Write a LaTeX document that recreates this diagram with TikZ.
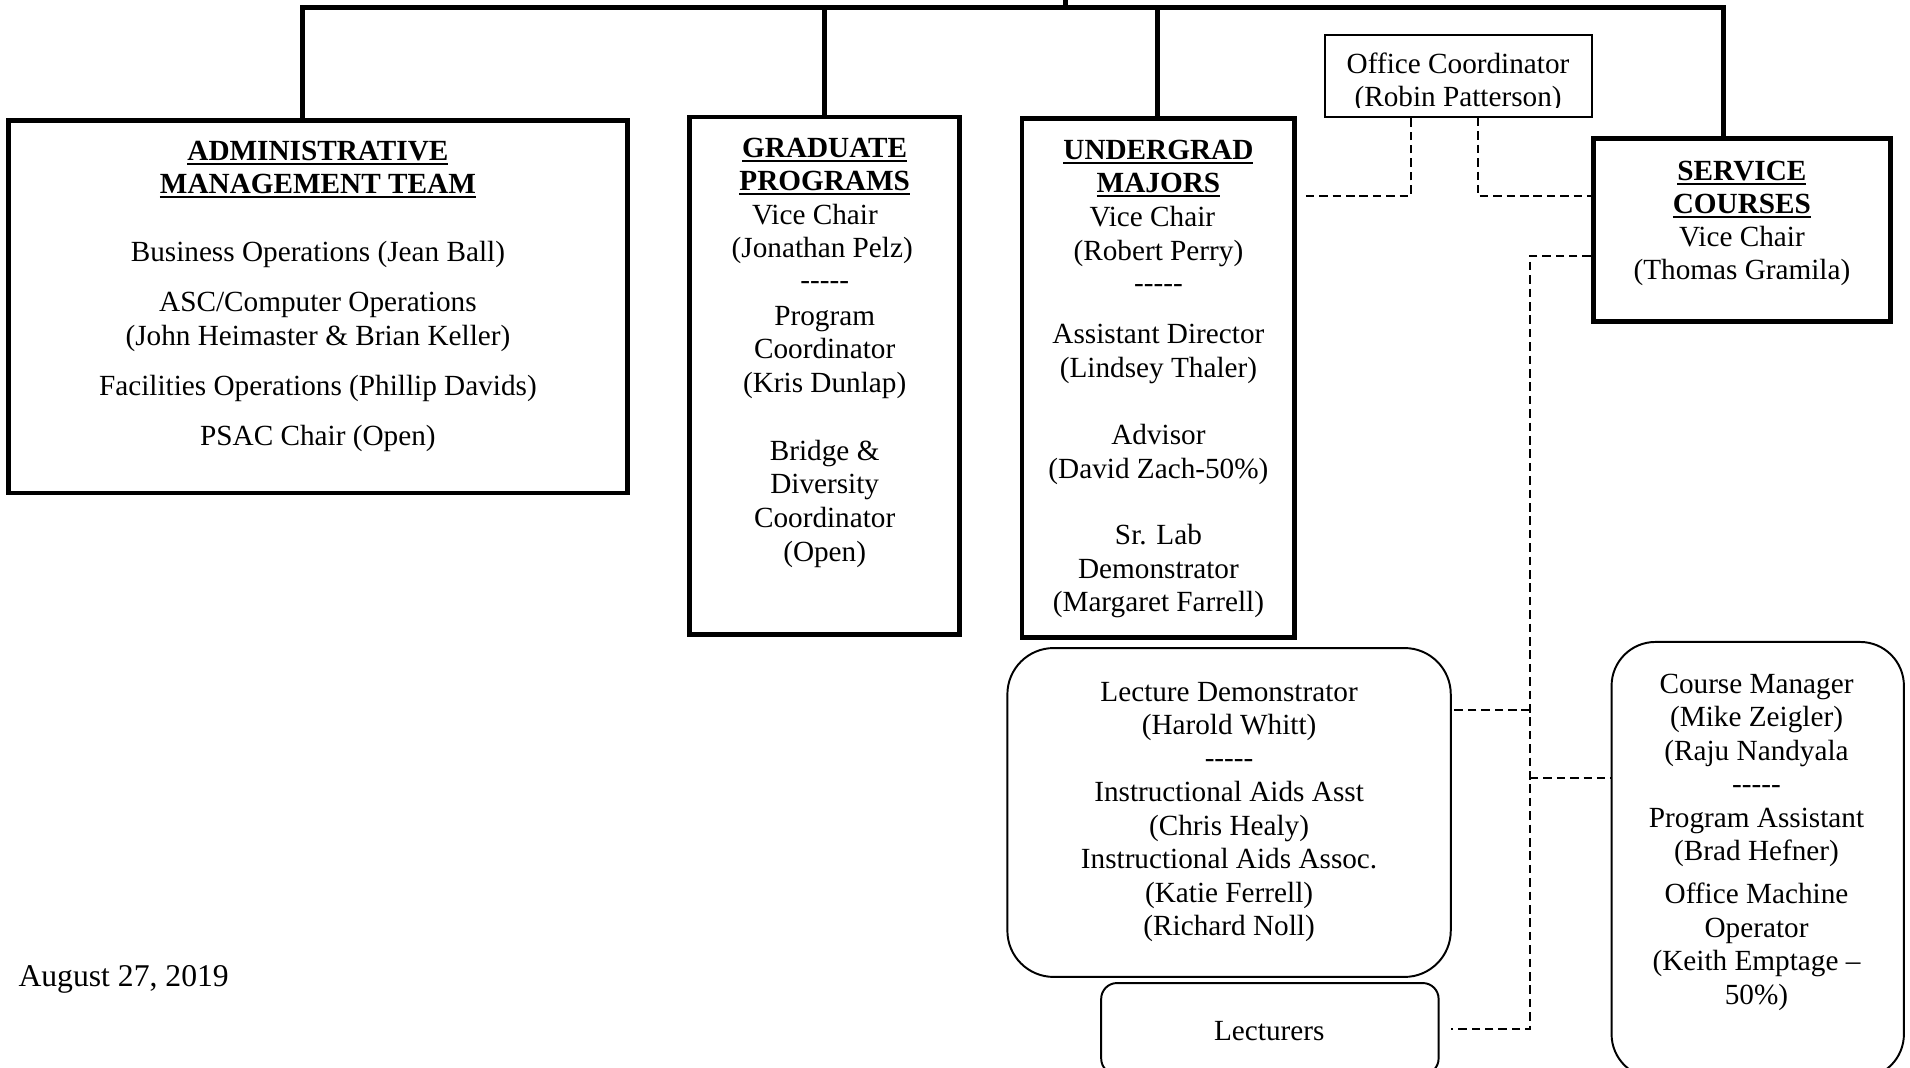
\documentclass[tikz,border=0pt]{standalone}
\usepackage{fontspec}
\setmainfont{Liberation Serif}
\newcommand{\myul}[1]{\setbox0=\hbox{#1}\rlap{\rule[-3.8pt]{\wd0}{1.6pt}}\box0}
\begin{document}
\begin{tikzpicture}[x=1pt,y=-1pt,
  conn/.style={line width=4pt},
  dsh/.style={line width=1.5pt, dash pattern=on 7pt off 4pt},
  bigbox/.style={draw, line width=4pt, inner sep=0pt},
  thinbox/.style={draw, line width=1.6pt, inner sep=0pt},
  rbox/.style={draw, line width=1.6pt, inner sep=0pt, rounded corners=#1},
  txt/.style={inner sep=0pt, anchor=base, font=\fontsize{24}{27.5}\selectfont},
  ttl/.style={inner sep=0pt, anchor=base, font=\fontsize{24}{27.5}\selectfont\bfseries}]
\useasboundingbox (0,0) rectangle (1568,876);

% boxes
\node[bigbox, minimum width=508, minimum height=305.5] (adm) at (261,252) {};
\node[bigbox, minimum width=222, minimum height=425] (grd) at (677,308.5) {};
\node[bigbox, minimum width=224, minimum height=426] (ug) at (951,310) {};
\node[bigbox, minimum width=244, minimum height=150] (svc) at (1430,189) {};
\node[thinbox, minimum width=219, minimum height=67] (oc) at (1197.5,62.5) {};
\node[rbox=38, minimum width=364, minimum height=270] (ldm) at (1009,667) {};
\node[rbox=13, minimum width=277, minimum height=75] (lec) at (1042.5,844.5) {};
\node[rbox=36, minimum width=240, minimum height=358] (crs) at (1443,706) {};

% solid connectors
\coordinate (hub) at (875,0);
\coordinate (tA) at (248,6);
\coordinate (tG) at (677,6);
\coordinate (tU) at (950,6);
\coordinate (tS) at (1415,6);
\draw[conn] (tA |- adm.north) -- (tA) -- (tS) -- (tS |- svc.north);
\draw[conn] (tG) -- (tG |- grd.north);
\draw[conn] (tU) -- (tU |- ug.north);
\draw[conn] (hub) -- (hub |- tA);

% dashed connectors
\coordinate (ugR) at ([xshift=7pt]ug.east);
\coordinate (lecR) at ([xshift=9pt]lec.east);
\coordinate (dA) at (1158,161);
\coordinate (dB) at (1213,161);
\coordinate (dC) at (1256,210);
\coordinate (dD) at (1256,583);
\coordinate (dE) at (1256,639);
\coordinate (dF) at (1256,845);
\draw[dsh] (ugR |- dA) -- (dA) -- (dA |- oc.south);
\draw[dsh] (dB |- oc.south) -- (dB) -- (svc.west |- dB);
\draw[dsh] (svc.west |- dC) -- (dC) -- (dF) -- (lecR |- dF);
\draw[dsh] (dD) -- (ldm.east |- dD);
\draw[dsh] (dE) -- (crs.west |- dE);

% administrative
\node[ttl] (a1) at (261,132) {\myul{ADMINISTRATIVE}};
\node[ttl] (a2) at (261,159) {\myul{MANAGEMENT TEAM}};
\node[txt] (a3) at (261,215) {Business Operations (Jean Ball)};
\node[txt] (a4) at (261,256) {ASC/Computer Operations};
\node[txt] (a5) at (261,284) {(John Heimaster \& Brian Keller)};
\node[txt] (a6) at (261,325) {Facilities Operations (Phillip Davids)};
\node[txt] (a7) at (261,366) {PSAC Chair (Open)};

% graduate
\node[ttl] (g1) at (677,129) {\myul{GRADUATE}};
\node[ttl] (g2) at (677,156) {\myul{PROGRAMS}};
\node[txt] (g3) at (669,184) {Vice Chair};
\node[txt] (g4) at (675,211.5) {(Jonathan Pelz)};
\node[txt] (g5) at (677,238) {-{}-{}-{}-{}-};
\node[txt] (g6) at (677,267) {Program};
\node[txt] (g7) at (677,294.5) {Coordinator};
\node[txt] (g8) at (677,322) {(Kris Dunlap)};
\node[txt] (g9) at (677,378) {Bridge \&};
\node[txt] (g10) at (677,405.5) {Diversity};
\node[txt] (g11) at (677,433) {Coordinator};
\node[txt] (g12) at (677,461) {(Open)};

% undergrad
\node[ttl] (u1) at (951,131) {\myul{UNDERGRAD}};
\node[ttl] (u2) at (951,158) {\myul{MAJORS}};
\node[txt] (u3) at (946,186) {Vice Chair};
\node[txt] (u4) at (951,214) {(Robert Perry)};
\node[txt] (u5) at (951,240) {-{}-{}-{}-{}-};
\node[txt] (u6) at (951,282) {Assistant Director};
\node[txt] (u7) at (951,309.5) {(Lindsey Thaler)};
\node[txt] (u8) at (951,365) {Advisor};
\node[txt] (u9) at (951,392.5) {(David Zach-50\%)};
\node[txt] (u10) at (951,447) {Sr. Lab};
\node[txt] (u11) at (951,474.5) {Demonstrator};
\node[txt] (u12) at (951,502) {(Margaret Farrell)};

% service
\node[ttl] (s1) at (1430,148) {\myul{SERVICE}};
\node[ttl] (s2) at (1430,175) {\myul{COURSES}};
\node[txt] (s3) at (1430,202) {Vice Chair};
\node[txt] (s4) at (1430,229.5) {(Thomas Gramila)};

% office coordinator
\begin{scope}
\clip (1088,29) rectangle (1307,88.5);
\node[txt] (o1) at (1197,60) {Office Coordinator};
\node[txt] (o2) at (1197,87.5) {(Robin Patterson)};
\end{scope}

% lecture demonstrator
\node[txt] (l1) at (1009,576) {Lecture Demonstrator};
\node[txt] (l2) at (1009,603) {(Harold Whitt)};
\node[txt] (l3) at (1009,630) {-{}-{}-{}-{}-};
\node[txt] (l4) at (1009,658) {Instructional Aids Asst};
\node[txt] (l5) at (1009,685.5) {(Chris Healy)};
\node[txt] (l6) at (1009,713) {Instructional Aids Assoc.};
\node[txt] (l7) at (1009,740.5) {(Katie Ferrell)};
\node[txt] (l8) at (1009,768) {(Richard Noll)};

% lecturers
\node[txt] (r1) at (1042,854) {Lecturers};

% course manager
\node[txt] (c1) at (1442,569) {Course Manager};
\node[txt] (c2) at (1442,596.5) {(Mike Zeigler)};
\node[txt] (c3) at (1442,624) {(Raju Nandyala};
\node[txt] (c4) at (1442,651) {-{}-{}-{}-{}-};
\node[txt] (c5) at (1442,679) {Program Assistant};
\node[txt] (c6) at (1442,706.5) {(Brad Hefner)};
\node[txt] (c7) at (1442,742) {Office Machine};
\node[txt] (c8) at (1442,769.5) {Operator};
\node[txt] (c9) at (1442,797) {(Keith Emptage --};
\node[txt] (c10) at (1442,824.5) {50\%)};

% date
\node[inner sep=0pt, anchor=base west, font=\fontsize{26}{30}\selectfont] (date) at (15,810) {August 27, 2019};
\end{tikzpicture}
\end{document}
